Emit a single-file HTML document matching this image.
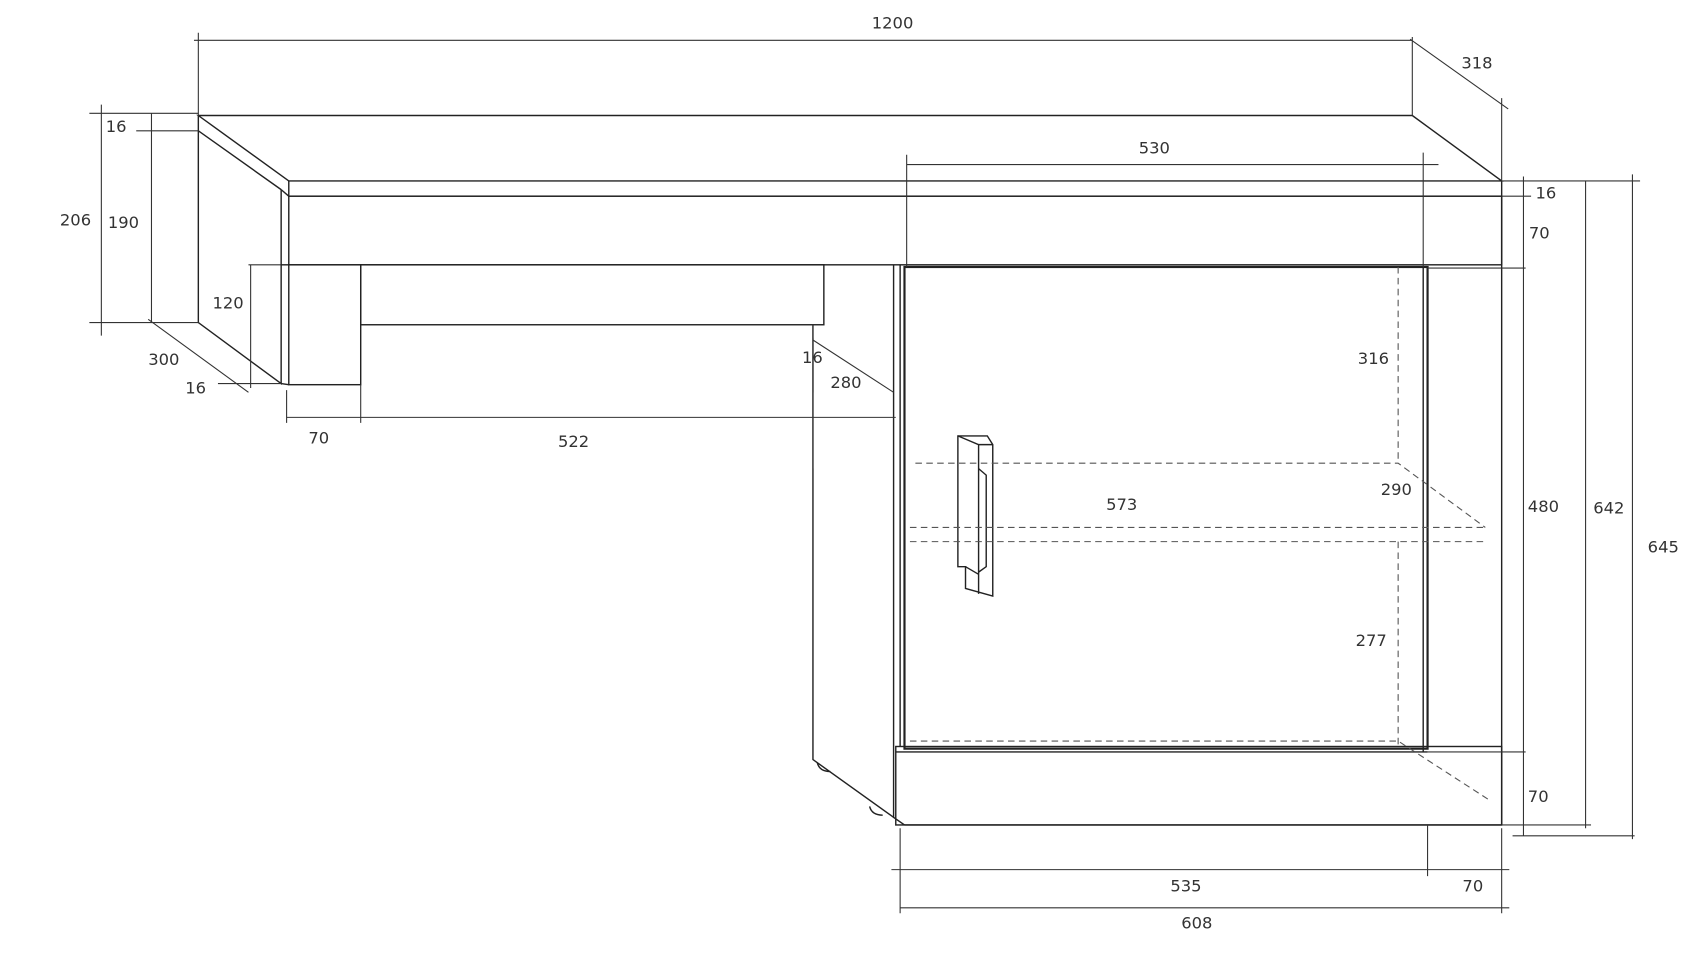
<!DOCTYPE html>
<html><head><meta charset="utf-8"><style>
html,body{margin:0;padding:0;background:#fff;width:1700px;height:959px;overflow:hidden}
svg{display:block}
text{font-family:"DejaVu Sans","Liberation Sans",sans-serif;font-size:15px;fill:#333}
</style></head><body>
<svg width="1700" height="959" viewBox="0 0 1560 880" preserveAspectRatio="none" xmlns="http://www.w3.org/2000/svg">
<g fill="none" stroke="#222" stroke-width="1.3">
<!-- top -->
<path d="M182 106 L1296 106 L1378 166 L265 166 Z"/>
<path d="M265 166 L265 180 L1378 180 L1378 166"/>
<path d="M182 106 L182 120 L258 174"/>
<!-- left leg side -->
<path d="M182 120 L182 296 L258 352 L258 174"/>
<path d="M258 174 L265 180"/>
<rect x="265" y="180" width="1113" height="63"/>
<path d="M258 243 L265 243"/>
<rect x="265" y="243" width="66" height="110"/>
<path d="M258 352 L265 353"/>
<rect x="331" y="243" width="425" height="55"/>
<!-- cabinet side -->
<path d="M746 298 L746 697 L820 750"/>
<path d="M750 700 q2 8 12 8"/><path d="M798 740 q2 8 12 8"/>
<path d="M820 243 L820 750 L830 757"/>
<path d="M826 243 L826 685"/>
<rect x="830" y="245" width="480" height="442" stroke-width="2"/>
<rect x="822" y="685" width="556" height="72"/>
<path d="M822 690 L1310 690"/>
<path d="M830 757 L1378 757"/>
<path d="M1378 180 L1378 757"/>
<path d="M1306 245 L1306 690"/>
<!-- handle -->
<path d="M879 400 L879 520 L886 520 L886 540 L911 547 L911 408 L906 400 Z"/>
<path d="M879 400 L898 408 L911 408 M898 408 L898 545 M886 520 L898 527"/>
<path d="M898 430 L905 436 L905 520 L898 525"/>
</g>
<!-- dashed -->
<g fill="none" stroke="#555" stroke-width="1" stroke-dasharray="6,4">
<path d="M840 425 L1283 425 L1363 484"/>
<path d="M835 484 L1363 484"/>
<path d="M835 497 L1363 497"/>
<path d="M1283 245 L1283 425"/>
<path d="M1283 497 L1283 687"/>
<path d="M835 680 L1283 680 L1368 735"/>
</g>
<!-- dimension lines -->
<g fill="none" stroke="#333" stroke-width="1">
<path d="M178 37 L1296 37 M182 30 L182 106 M1296 34 L1296 106"/>
<path d="M1294 36 L1384 100 M1378 90 L1378 166"/>
<path d="M832 151 L1320 151 M832 142 L832 245 M1306 140 L1306 245"/>
<path d="M82 104 L182 104 M125 120 L182 120 M82 296 L182 296"/>
<path d="M93 96 L93 308 M139 104 L139 296"/>
<path d="M228 243 L258 243 M230 243 L230 356"/>
<path d="M136 293 L228 360 M200 352 L258 352"/>
<path d="M263 358 L263 388 M331 353 L331 388 M263 383 L822 383"/>
<path d="M746 298 L746 310 M746 312 L820 360 M746 360 L746 430"/>
<path d="M1378 166 L1505 166 M1378 180 L1405 180"/>
<path d="M1310 246 L1400 246 M1310 690 L1400 690 M1378 757 L1460 757 M1388 767 L1500 767"/>
<path d="M1398 162 L1398 767 M1455 166 L1455 760 M1498 160 L1498 770"/>
<path d="M818 798 L1385 798 M826 833 L1385 833 M826 760 L826 838 M1310 757 L1310 804 M1378 760 L1378 838"/>
</g>
<g>
<text x="800" y="26">1200</text>
<text x="1341" y="63">318</text>
<text x="97" y="121">16</text>
<text x="55" y="207">206</text>
<text x="99" y="209">190</text>
<text x="195" y="283">120</text>
<text x="136" y="335">300</text>
<text x="170" y="361">16</text>
<text x="283" y="407">70</text>
<text x="512" y="410">522</text>
<text x="736" y="333">16</text>
<text x="762" y="356">280</text>
<text x="1045" y="141">530</text>
<text x="1409" y="182">16</text>
<text x="1403" y="219">70</text>
<text x="1246" y="334">316</text>
<text x="1267" y="454">290</text>
<text x="1015" y="468">573</text>
<text x="1402" y="470">480</text>
<text x="1462" y="471">642</text>
<text x="1512" y="507">645</text>
<text x="1244" y="593">277</text>
<text x="1402" y="736">70</text>
<text x="1074" y="818">535</text>
<text x="1342" y="818">70</text>
<text x="1084" y="852">608</text>
</g>
</svg>
</body></html>
